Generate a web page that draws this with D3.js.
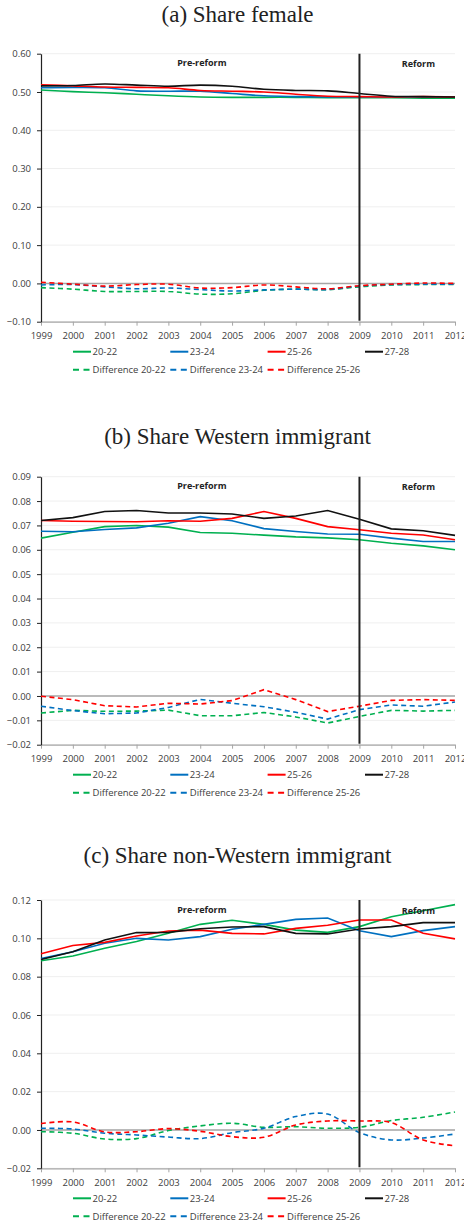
<!DOCTYPE html>
<html>
<head>
<meta charset="utf-8">
<script src="https://cdn.jsdelivr.net/npm/d3@7"></script>
<style>
  body { margin: 0; background: #fff; }
  svg text { font-family: "Open Sans", sans-serif; fill: #404040; }
</style>
</head>
<body>
<div id="wrapper"></div>
<script>
const years = [1999, 2000, 2001, 2002, 2003, 2004, 2005, 2006, 2007, 2008, 2009, 2010, 2011, 2012];
const reformYear = 2009;
const groupNames = ["20-22", "23-24", "25-26", "27-28"];
const diffNames = ["Difference 20-22", "Difference 23-24", "Difference 25-26"];

// (a) share female
const female_20_22 = [0.505, 0.501, 0.498, 0.494, 0.490, 0.487, 0.486, 0.486, 0.486, 0.485, 0.485, 0.485, 0.484, 0.484];
const female_23_24 = [0.511, 0.512, 0.511, 0.503, 0.502, 0.502, 0.496, 0.490, 0.488, 0.487, 0.487, 0.487, 0.487, 0.487];
const female_25_26 = [0.519, 0.516, 0.513, 0.512, 0.511, 0.504, 0.502, 0.500, 0.494, 0.489, 0.488, 0.487, 0.488, 0.487];
const female_27_28 = [0.516, 0.517, 0.521, 0.518, 0.515, 0.518, 0.515, 0.507, 0.504, 0.503, 0.496, 0.489, 0.488, 0.487];
const female_diff_20_22 = [-0.011, -0.015, -0.021, -0.021, -0.021, -0.028, -0.027, -0.018, -0.015, -0.016, -0.009, -0.004, -0.003, -0.003];
const female_diff_23_24 = [-0.004, -0.003, -0.009, -0.014, -0.012, -0.016, -0.020, -0.017, -0.015, -0.016, -0.007, -0.003, -0.002, -0.002];
const female_diff_25_26 = [0.003, -0.002, -0.007, -0.003, -0.002, -0.012, -0.011, -0.004, -0.009, -0.014, -0.006, -0.002, 0.001, 0.000];
const female_ticks = [0.60, 0.50, 0.40, 0.30, 0.20, 0.10, 0.00, -0.10];

// (b) share Western immigrant
const western_20_22 = [0.0648, 0.0672, 0.0695, 0.0700, 0.0693, 0.0671, 0.0668, 0.0660, 0.0653, 0.0649, 0.0641, 0.0627, 0.0616, 0.0600];
const western_23_24 = [0.0676, 0.0674, 0.0683, 0.0690, 0.0709, 0.0736, 0.0719, 0.0687, 0.0675, 0.0665, 0.0664, 0.0648, 0.0634, 0.0634];
const western_25_26 = [0.0720, 0.0717, 0.0716, 0.0715, 0.0719, 0.0717, 0.0729, 0.0757, 0.0729, 0.0695, 0.0682, 0.0668, 0.0661, 0.0641];
const western_27_28 = [0.0720, 0.0732, 0.0757, 0.0761, 0.0751, 0.0751, 0.0747, 0.0729, 0.0739, 0.0761, 0.0725, 0.0686, 0.0678, 0.0659];
const western_diff_20_22 = [-0.0070, -0.0059, -0.0063, -0.0062, -0.0058, -0.0081, -0.0081, -0.0068, -0.0086, -0.0111, -0.0084, -0.0059, -0.0062, -0.0059];
const western_diff_23_24 = [-0.0042, -0.0060, -0.0073, -0.0070, -0.0047, -0.0014, -0.0030, -0.0044, -0.0067, -0.0095, -0.0056, -0.0037, -0.0042, -0.0025];
const western_diff_25_26 = [-0.0001, -0.0015, -0.0040, -0.0045, -0.0030, -0.0033, -0.0019, 0.0026, -0.0015, -0.0064, -0.0042, -0.0018, -0.0015, -0.0018];
const western_ticks = [0.09, 0.08, 0.07, 0.06, 0.05, 0.04, 0.03, 0.02, 0.01, 0.00, -0.01, -0.02];

// (c) share non-Western immigrant
const nonwestern_20_22 = [0.0883, 0.0908, 0.0948, 0.0983, 0.1026, 0.1073, 0.1094, 0.1073, 0.1043, 0.1031, 0.1061, 0.1113, 0.1144, 0.1176];
const nonwestern_23_24 = [0.0894, 0.0930, 0.0974, 0.1000, 0.0991, 0.1009, 0.1047, 0.1073, 0.1099, 0.1106, 0.1040, 0.1009, 0.1040, 0.1061];
const nonwestern_25_26 = [0.0920, 0.0963, 0.0979, 0.1012, 0.1038, 0.1043, 0.1026, 0.1023, 0.1052, 0.1068, 0.1096, 0.1096, 0.1026, 0.0997];
const nonwestern_27_28 = [0.0890, 0.0930, 0.0991, 0.1030, 0.1031, 0.1050, 0.1059, 0.1061, 0.1026, 0.1023, 0.1049, 0.1061, 0.1082, 0.1082];
const nonwestern_diff_20_22 = [-0.0009, -0.0017, -0.0047, -0.0045, -0.0003, 0.0021, 0.0035, 0.0014, 0.0017, 0.0009, 0.0014, 0.0049, 0.0066, 0.0094];
const nonwestern_diff_23_24 = [0.0009, 0.0005, -0.0017, -0.0026, -0.0037, -0.0045, -0.0014, 0.0009, 0.0070, 0.0083, -0.0014, -0.0052, -0.0042, -0.0021];
const nonwestern_diff_25_26 = [0.0033, 0.0042, -0.0010, -0.0009, 0.0007, -0.0007, -0.0035, -0.0038, 0.0026, 0.0047, 0.0047, 0.0038, -0.0052, -0.0083];
const nonwestern_ticks = [0.12, 0.10, 0.08, 0.06, 0.04, 0.02, 0.00, -0.02];

const panels = [
    { title: "(a) Share female", ticks: female_ticks,
      solid: [female_20_22, female_23_24, female_25_26, female_27_28],
      diff: [female_diff_20_22, female_diff_23_24, female_diff_25_26] },
    { title: "(b) Share Western immigrant", ticks: western_ticks,
      solid: [western_20_22, western_23_24, western_25_26, western_27_28],
      diff: [western_diff_20_22, western_diff_23_24, western_diff_25_26] },
    { title: "(c) Share non-Western immigrant", ticks: nonwestern_ticks,
      solid: [nonwestern_20_22, nonwestern_23_24, nonwestern_25_26, nonwestern_27_28],
      diff: [nonwestern_diff_20_22, nonwestern_diff_23_24, nonwestern_diff_25_26] }
];

// layout of each panel (pixels), kept apart from the data
const layout = [
    { titleY: 22, top: 53.7, bottom: 321.7, solidCurve: d3.curveCatmullRom, diffCurve: d3.curveCatmullRom },
    { titleY: 443.5, top: 476.7, bottom: 744.7, solidCurve: d3.curveLinear, diffCurve: d3.curveLinear },
    { titleY: 862.5, top: 900, bottom: 1168.3, solidCurve: d3.curveLinear, diffCurve: d3.curveCatmullRom }
];

const colors = ["#00b050", "#0070c0", "#ff0000", "#111111"];

const dimension = { width: 464, height: 1223, left: 41, right: 455 };

const svg = d3.select("#wrapper").append("svg")
    .attr("width", dimension.width)
    .attr("height", dimension.height);

const xScaler = d3.scaleLinear()
    .domain(d3.extent(years))
    .range([dimension.left, dimension.right]);

panels.forEach((panel, i) => {
    const lay = layout[i];
    const g = svg.append("g");

    const yScaler = d3.scaleLinear()
        .domain(d3.extent(panel.ticks))
        .range([lay.bottom, lay.top]);

    g.append("text")
        .attr("x", 237.5)
        .attr("y", lay.titleY)
        .attr("text-anchor", "middle")
        .style("font-family", "'Liberation Serif', serif")
        .style("font-size", "23px")
        .style("fill", "#222")
        .text(panel.title);

    // faint gridlines
    g.selectAll(".grid")
        .data(panel.ticks)
        .join("line")
        .attr("x1", dimension.left)
        .attr("x2", dimension.right)
        .attr("y1", d => yScaler(d))
        .attr("y2", d => yScaler(d))
        .attr("stroke", "#efefef")
        .attr("stroke-width", 1);

    // zero line
    g.append("line")
        .attr("x1", dimension.left)
        .attr("x2", dimension.right)
        .attr("y1", yScaler(0))
        .attr("y2", yScaler(0))
        .attr("stroke", "#a6a6a6")
        .attr("stroke-width", 1.5);

    // x axis along the bottom
    const xAxis = g.append("g")
        .attr("transform", `translate(0, ${lay.bottom})`)
        .call(d3.axisBottom(xScaler)
            .tickValues(years)
            .tickFormat(d3.format("d"))
            .tickSize(4)
            .tickSizeOuter(0)
            .tickPadding(7));
    xAxis.select(".domain").attr("stroke", "#a6a6a6").attr("stroke-width", 1.2);
    xAxis.selectAll(".tick line").attr("stroke", "#a6a6a6");
    xAxis.selectAll(".tick text")
        .style("font-family", "'Open Sans', sans-serif")
        .style("font-size", "9.5px")
        .attr("fill", "#404040");

    // y axis
    const yAxis = g.append("g")
        .attr("transform", `translate(${dimension.left}, 0)`)
        .call(d3.axisLeft(yScaler)
            .tickValues(panel.ticks)
            .tickFormat(d3.format(".2f"))
            .tickSize(4)
            .tickSizeOuter(0)
            .tickPadding(6));
    yAxis.select(".domain").attr("stroke", "#222").attr("stroke-width", 1.2);
    yAxis.selectAll(".tick line").attr("stroke", "#222");
    yAxis.selectAll(".tick text")
        .style("font-family", "'Open Sans', sans-serif")
        .style("font-size", "9.5px")
        .attr("fill", "#404040");

    const solidLine = d3.line()
        .x((d, j) => xScaler(years[j]))
        .y(d => yScaler(d))
        .curve(lay.solidCurve);
    const diffLine = d3.line()
        .x((d, j) => xScaler(years[j]))
        .y(d => yScaler(d))
        .curve(lay.diffCurve);

    panel.diff.forEach((values, k) => {
        g.append("path")
            .attr("d", diffLine(values))
            .attr("fill", "none")
            .attr("stroke", colors[k])
            .attr("stroke-width", 1.6)
            .attr("stroke-dasharray", "5,3.5");
    });

    panel.solid.forEach((values, k) => {
        g.append("path")
            .attr("d", solidLine(values))
            .attr("fill", "none")
            .attr("stroke", colors[k])
            .attr("stroke-width", 1.6);
    });

    // reform line
    g.append("line")
        .attr("x1", xScaler(reformYear))
        .attr("x2", xScaler(reformYear))
        .attr("y1", yScaler(panel.ticks[0]))
        .attr("y2", yScaler(panel.ticks[panel.ticks.length - 1]) - 1)
        .attr("stroke", "#222")
        .attr("stroke-width", 2);

    g.append("text")
        .attr("x", xScaler(2004.05))
        .attr("y", lay.top + 12.5)
        .attr("text-anchor", "middle")
        .style("font-size", "9px")
        .style("font-weight", "bold")
        .style("fill", "#222")
        .text("Pre-reform");
    g.append("text")
        .attr("x", xScaler(2010.85))
        .attr("y", lay.top + 13.5)
        .attr("text-anchor", "middle")
        .style("font-size", "9px")
        .style("font-weight", "bold")
        .style("fill", "#222")
        .text("Reform");

    // legend
    const legendX = [73, 170.3, 267.6, 365];
    const row1 = lay.bottom + 30;
    const row2 = lay.bottom + 48;
    groupNames.forEach((name, k) => {
        g.append("line")
            .attr("x1", legendX[k]).attr("x2", legendX[k] + 18)
            .attr("y1", row1).attr("y2", row1)
            .attr("stroke", colors[k]).attr("stroke-width", 2);
        g.append("text")
            .attr("x", legendX[k] + 19.5)
            .attr("y", row1)
            .attr("dy", "0.35em")
            .style("font-size", "9.5px")
            .text(name);
    });
    diffNames.forEach((name, k) => {
        g.append("line")
            .attr("x1", legendX[k]).attr("x2", legendX[k] + 18)
            .attr("y1", row2).attr("y2", row2)
            .attr("stroke", colors[k]).attr("stroke-width", 2)
            .attr("stroke-dasharray", "6,4.5");
        g.append("text")
            .attr("x", legendX[k] + 19.5)
            .attr("y", row2)
            .attr("dy", "0.35em")
            .style("font-size", "9.5px")
            .text(name);
    });
});
</script>
</body>
</html>
